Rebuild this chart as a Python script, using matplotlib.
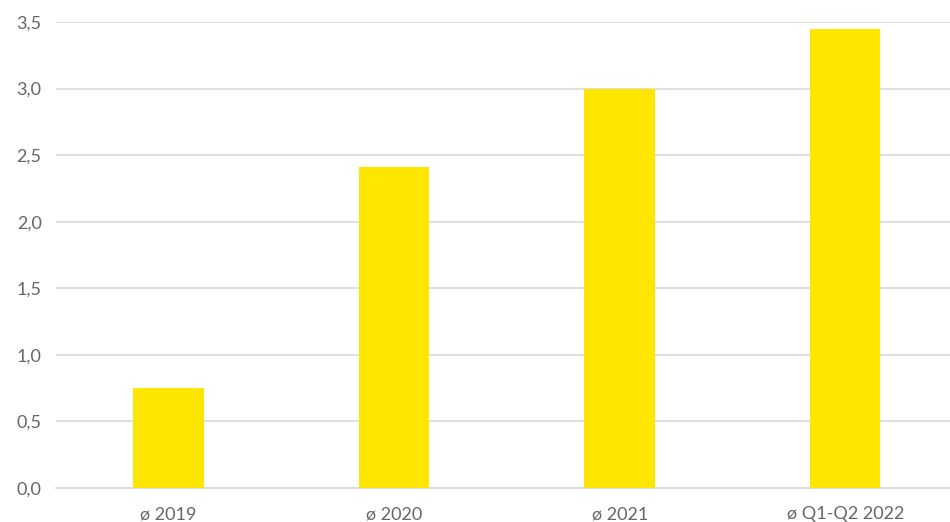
import matplotlib
matplotlib.use("Agg")
import matplotlib.pyplot as plt
from matplotlib.ticker import FuncFormatter, MultipleLocator

categories = ["ø 2019", "ø 2020", "ø 2021", "ø Q1-Q2 2022"]
values = [0.75, 2.41, 3.0, 3.45]

plt.rcParams['font.family'] = ['Lato', 'DejaVu Sans']

fig = plt.figure(figsize=(9.5, 5.22), dpi=100)
ax = fig.add_axes([0.0585, 0.0651, 0.95, 0.8927])

x = list(range(len(categories)))
ax.bar(x, values, width=0.312, color="#FFE600", zorder=3)

ax.set_xlim(-0.5, len(categories) - 0.5)
ax.set_ylim(0, 3.5)
ax.yaxis.set_major_locator(MultipleLocator(0.5))
ax.yaxis.set_major_formatter(FuncFormatter(lambda v, p: f"{v:.1f}".replace(".", ",")))
ax.set_xticks(x)
ax.set_xticklabels(categories)

ax.grid(axis="y", color="#D9D9D9", linewidth=1.2, zorder=0)
for s in ["top", "right", "left"]:
    ax.spines[s].set_visible(False)
ax.spines["bottom"].set_color("#D9D9D9")
ax.spines["bottom"].set_linewidth(1.2)
ax.tick_params(axis="both", length=0, labelsize=13, colors="#666666")
ax.tick_params(axis="x", pad=13)
ax.tick_params(axis="y", pad=10)

fig.savefig("out.png", dpi=100)
